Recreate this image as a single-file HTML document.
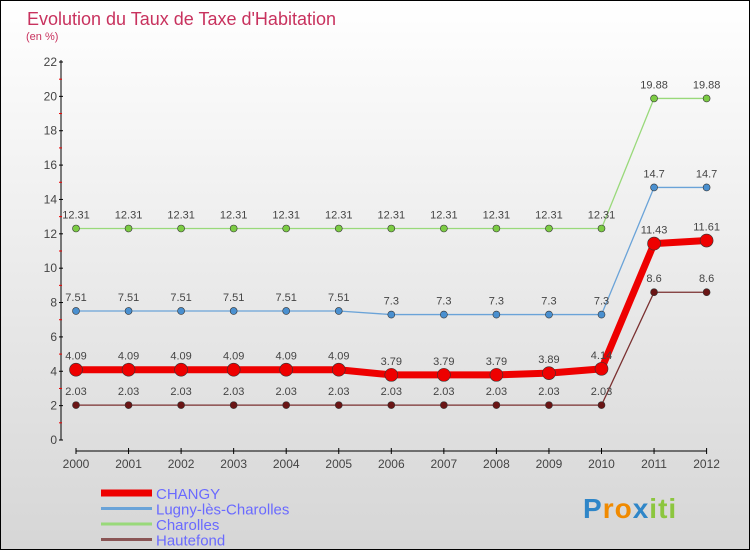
<!DOCTYPE html>
<html><head><meta charset="utf-8"><style>
body{margin:0}
#c{width:748px;height:548px;border:1px solid #000;background:linear-gradient(#fff,#d6d6d6);position:relative;overflow:hidden;font-family:"Liberation Sans",sans-serif}
</style></head><body>
<div id="c">
<svg id="s" width="748" height="548"></svg>
</div>
<script>
const years=[2000,2001,2002,2003,2004,2005,2006,2007,2008,2009,2010,2011,2012];
const changy=[4.09,4.09,4.09,4.09,4.09,4.09,3.79,3.79,3.79,3.89,4.14,11.43,11.61];
const lugny=[7.51,7.51,7.51,7.51,7.51,7.51,7.3,7.3,7.3,7.3,7.3,14.7,14.7];
const charolles=[12.31,12.31,12.31,12.31,12.31,12.31,12.31,12.31,12.31,12.31,12.31,19.88,19.88];
const hautefond=[2.03,2.03,2.03,2.03,2.03,2.03,2.03,2.03,2.03,2.03,2.03,8.6,8.6];
const yTicks=[0,2,4,6,8,10,12,14,16,18,20,22];
const seriesNames=["CHANGY","Lugny-lès-Charolles","Charolles","Hautefond"];
const NS="http://www.w3.org/2000/svg",s=document.getElementById('s');
const X=i=>75+i*52.55, Y=v=>439-v*(378/22);
function el(t,a,txt){const e=document.createElementNS(NS,t);for(const k in a)e.setAttribute(k,a[k]);if(txt!==undefined)e.textContent=txt;s.appendChild(e);return e;}
let e;
e=el('text',{x:26,y:24,'font-size':18,fill:'#c8325e'},'Evolution du Taux de Taxe d\'Habitation');


e=el('text',{x:25,y:39,'font-size':11,fill:'#c8325e'},'(en %)');


e=el('line',{x1:60,y1:59,x2:60,y2:439,stroke:'#000'});


yTicks.forEach(v=>{
 el('line',{x1:58,x2:62,y1:Y(v),y2:Y(v),stroke:'#000'});
 if(v<22){el('line',{x1:58,x2:61,y1:Y(v+1),y2:Y(v+1),stroke:'#e00'});}
 e=el('text',{x:56,y:Y(v)+4,'font-size':12,fill:'#444','text-anchor':'end'},v);
 
 
});
e=el('line',{x1:75,y1:450,x2:706,y2:450,stroke:'#000'});


years.forEach((y,i)=>{
 el('line',{x1:X(i),x2:X(i),y1:447,y2:453,stroke:'#000'});
 e=el('text',{x:X(i),y:467,'font-size':12,fill:'#444','text-anchor':'middle'},y);
 
 
});
function series(d,col,dot,w,r,name){
 e=el('polyline',{points:d.map((v,i)=>X(i)+','+Y(v)).join(' '),fill:'none',stroke:col,'stroke-width':w,'stroke-linejoin':'round'});
 
 
 d.forEach((v,i)=>{
  e=el('circle',{cx:X(i),cy:Y(v),r:r,fill:dot,stroke:'#333','stroke-width':0.6});
  
  
  e=el('text',{x:X(i),y:Y(v)-10,'font-size':11,fill:'#444','text-anchor':'middle'},String(v));
  
  
 });
}
series(charolles,'#99d97a','#7ccc44',1.3,3.5,'charolles');
series(lugny,'#6aa3d8','#4a90d0',1.3,3.5,'lugny');
series(hautefond,'#7a3030','#6a1515',1.3,3.5,'hautefond');
series(changy,'#ee0000','#ee0000',7,6.5,'changy');
const lc=['#ee0000','#6aa3d8','#99d97a','#8a5555'],lw=[7,3,3,3];
seriesNames.forEach((n,i)=>{
 const y=492+i*15.5;
 e=el('line',{x1:100,x2:151,y1:y,y2:y,stroke:lc[i],'stroke-width':lw[i]});
 
 
 e=el('text',{x:155,y:y+6,'font-size':15,fill:'#6a6aff'},n);
 
 
});
e=el('text',{x:582,y:517,'font-size':28,'font-weight':'bold',fill:'#3a8fd0','letter-spacing':1},'');


[['P','#2f86c8'],['r','#f08a00'],['o','#f08a00'],['x','#2f86c8'],['i','#8cc63f'],['t','#8cc63f'],['i','#8cc63f']].forEach(([c,f])=>{const t=document.createElementNS(NS,'tspan');t.setAttribute('fill',f);t.textContent=c;e.appendChild(t);});
</script>
</body></html>
